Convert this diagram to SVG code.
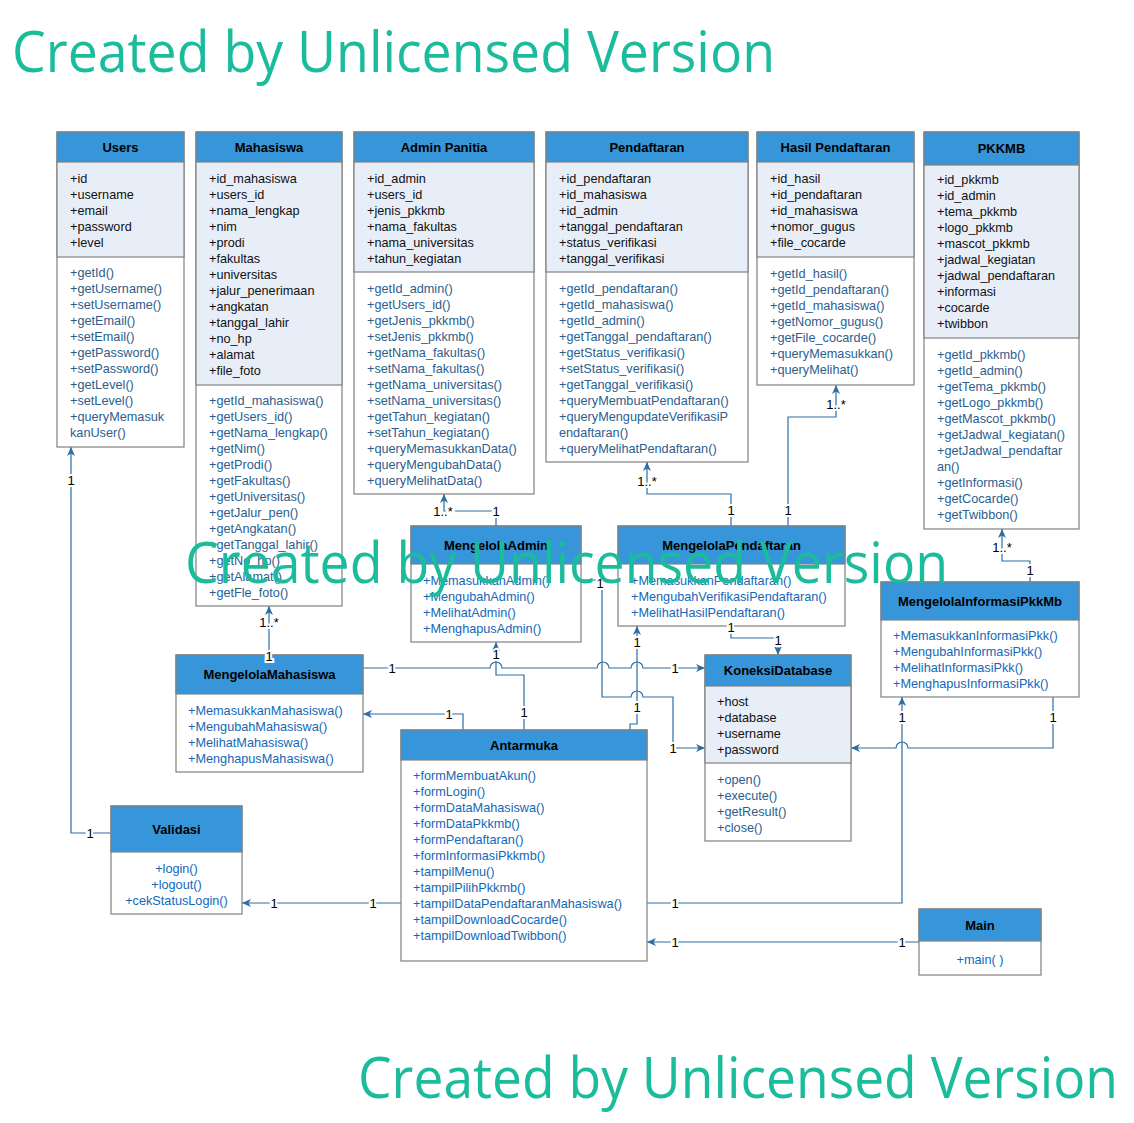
<svg xmlns="http://www.w3.org/2000/svg" width="1134" height="1123" viewBox="0 0 1134 1123">
<style>
.bx{fill:#fff;stroke:#808080;stroke-width:1.2}
.hd{fill:#3796d9;stroke:#808080;stroke-width:1.2}
.at{fill:#e8eef8;stroke:#808080;stroke-width:1.2}
text{font-family:"Liberation Sans",Arial,sans-serif;font-size:12.7px}
.ti{font-weight:bold;font-size:13px;text-anchor:middle;fill:#000}
.a{fill:#111}
.m{fill:#2b5e8e}
.c{fill:#1268b8}
.ctr{text-anchor:middle}
.ln{fill:none;stroke:#2e6da4;stroke-width:1.2}
.lb{font-size:13px;fill:#000;stroke:#fff;stroke-width:4;paint-order:stroke;text-anchor:middle}
.wm{font-family:"Open Sans","Noto Sans",sans-serif;font-size:56px;fill:#1bbc9b}
</style>
<defs>
<marker id="arr" markerUnits="userSpaceOnUse" markerWidth="10" markerHeight="9" refX="9" refY="4" orient="auto">
<path d="M0,0 L9,4 L0,8 L2.5,4 z" fill="#2e6da4"/>
</marker>
</defs>
<rect width="1134" height="1123" fill="#fff"/>

<g id="connectors">
<path class="ln" d="M111,833 H71 V447" marker-end="url(#arr)"/>
<path class="ln" d="M269,655 V606" marker-end="url(#arr)"/>
<path class="ln" d="M496,526 V511 H444 V494" marker-end="url(#arr)"/>
<path class="ln" d="M731,526 V494 H647 V462" marker-end="url(#arr)"/>
<path class="ln" d="M788,526 V417 H836 V385" marker-end="url(#arr)"/>
<path class="ln" d="M1030,582 V561 H1002 V529" marker-end="url(#arr)"/>
<path class="ln" d="M731,626 V638 H778 V655" marker-end="url(#arr)"/>
<path class="ln" d="M363,668 H490 a6,6 0 0 1 12,0 H597 a6,6 0 0 1 12,0 H631 a6,6 0 0 1 12,0 H705" marker-end="url(#arr)"/>
<path class="ln" d="M524,730 V675 H496 V642" marker-end="url(#arr)"/>
<path class="ln" d="M463,730 V714 H363" marker-end="url(#arr)"/>
<path class="ln" d="M630,730 V724 H637 V626" marker-end="url(#arr)"/>
<path class="ln" d="M581,580 H602 V697 H631 a6,6 0 0 1 12,0 H673 V748 H705" marker-end="url(#arr)"/>
<path class="ln" d="M647,903 H902 V697" marker-end="url(#arr)"/>
<path class="ln" d="M1053,697 V748 H908 a6,6 0 0 0 -12,0 H851" marker-end="url(#arr)"/>
<path class="ln" d="M919,942 H647" marker-end="url(#arr)"/>
<path class="ln" d="M401,903 H242" marker-end="url(#arr)"/>
</g>

<g id="users">
<rect class="bx" x="57" y="132" width="127" height="315"/>
<rect class="hd" x="57" y="132" width="127" height="30"/>
<rect class="at" x="57" y="162" width="127" height="95"/>
<text class="ti" x="120.5" y="151.5">Users</text>
<text class="a"><tspan x="70" y="182.5">+id</tspan><tspan x="70" dy="16">+username</tspan><tspan x="70" dy="16">+email</tspan><tspan x="70" dy="16">+password</tspan><tspan x="70" dy="16">+level</tspan></text>
<text class="m"><tspan x="70" y="276.5">+getId()</tspan><tspan x="70" dy="16">+getUsername()</tspan><tspan x="70" dy="16">+setUsername()</tspan><tspan x="70" dy="16">+getEmail()</tspan><tspan x="70" dy="16">+setEmail()</tspan><tspan x="70" dy="16">+getPassword()</tspan><tspan x="70" dy="16">+setPassword()</tspan><tspan x="70" dy="16">+getLevel()</tspan><tspan x="70" dy="16">+setLevel()</tspan><tspan x="70" dy="16">+queryMemasuk</tspan><tspan x="70" dy="16">kanUser()</tspan></text>
</g>

<g id="mahasiswa">
<rect class="bx" x="196" y="132" width="146" height="474"/>
<rect class="hd" x="196" y="132" width="146" height="30"/>
<rect class="at" x="196" y="162" width="146" height="223"/>
<text class="ti" x="269" y="151.5">Mahasiswa</text>
<text class="a"><tspan x="209" y="182.5">+id_mahasiswa</tspan><tspan x="209" dy="16">+users_id</tspan><tspan x="209" dy="16">+nama_lengkap</tspan><tspan x="209" dy="16">+nim</tspan><tspan x="209" dy="16">+prodi</tspan><tspan x="209" dy="16">+fakultas</tspan><tspan x="209" dy="16">+universitas</tspan><tspan x="209" dy="16">+jalur_penerimaan</tspan><tspan x="209" dy="16">+angkatan</tspan><tspan x="209" dy="16">+tanggal_lahir</tspan><tspan x="209" dy="16">+no_hp</tspan><tspan x="209" dy="16">+alamat</tspan><tspan x="209" dy="16">+file_foto</tspan></text>
<text class="m"><tspan x="209" y="404.5">+getId_mahasiswa()</tspan><tspan x="209" dy="16">+getUsers_id()</tspan><tspan x="209" dy="16">+getNama_lengkap()</tspan><tspan x="209" dy="16">+getNim()</tspan><tspan x="209" dy="16">+getProdi()</tspan><tspan x="209" dy="16">+getFakultas()</tspan><tspan x="209" dy="16">+getUniversitas()</tspan><tspan x="209" dy="16">+getJalur_pen()</tspan><tspan x="209" dy="16">+getAngkatan()</tspan><tspan x="209" dy="16">+getTanggal_lahir()</tspan><tspan x="209" dy="16">+getNo_hp()</tspan><tspan x="209" dy="16">+getAlamat()</tspan><tspan x="209" dy="16">+getFle_foto()</tspan></text>
</g>

<g id="admin-panitia">
<rect class="bx" x="354" y="132" width="180" height="362"/>
<rect class="hd" x="354" y="132" width="180" height="30"/>
<rect class="at" x="354" y="162" width="180" height="110"/>
<text class="ti" x="444" y="151.5">Admin Panitia</text>
<text class="a"><tspan x="367" y="182.5">+id_admin</tspan><tspan x="367" dy="16">+users_id</tspan><tspan x="367" dy="16">+jenis_pkkmb</tspan><tspan x="367" dy="16">+nama_fakultas</tspan><tspan x="367" dy="16">+nama_universitas</tspan><tspan x="367" dy="16">+tahun_kegiatan</tspan></text>
<text class="m"><tspan x="367" y="292.5">+getId_admin()</tspan><tspan x="367" dy="16">+getUsers_id()</tspan><tspan x="367" dy="16">+getJenis_pkkmb()</tspan><tspan x="367" dy="16">+setJenis_pkkmb()</tspan><tspan x="367" dy="16">+getNama_fakultas()</tspan><tspan x="367" dy="16">+setNama_fakultas()</tspan><tspan x="367" dy="16">+getNama_universitas()</tspan><tspan x="367" dy="16">+setNama_universitas()</tspan><tspan x="367" dy="16">+getTahun_kegiatan()</tspan><tspan x="367" dy="16">+setTahun_kegiatan()</tspan><tspan x="367" dy="16">+queryMemasukkanData()</tspan><tspan x="367" dy="16">+queryMengubahData()</tspan><tspan x="367" dy="16">+queryMelihatData()</tspan></text>
</g>

<g id="pendaftaran">
<rect class="bx" x="546" y="132" width="202" height="330"/>
<rect class="hd" x="546" y="132" width="202" height="30"/>
<rect class="at" x="546" y="162" width="202" height="110"/>
<text class="ti" x="647" y="151.5">Pendaftaran</text>
<text class="a"><tspan x="559" y="182.5">+id_pendaftaran</tspan><tspan x="559" dy="16">+id_mahasiswa</tspan><tspan x="559" dy="16">+id_admin</tspan><tspan x="559" dy="16">+tanggal_pendaftaran</tspan><tspan x="559" dy="16">+status_verifikasi</tspan><tspan x="559" dy="16">+tanggal_verifikasi</tspan></text>
<text class="m"><tspan x="559" y="292.5">+getId_pendaftaran()</tspan><tspan x="559" dy="16">+getId_mahasiswa()</tspan><tspan x="559" dy="16">+getId_admin()</tspan><tspan x="559" dy="16">+getTanggal_pendaftaran()</tspan><tspan x="559" dy="16">+getStatus_verifikasi()</tspan><tspan x="559" dy="16">+setStatus_verifikasi()</tspan><tspan x="559" dy="16">+getTanggal_verifikasi()</tspan><tspan x="559" dy="16">+queryMembuatPendaftaran()</tspan><tspan x="559" dy="16">+queryMengupdateVerifikasiP</tspan><tspan x="559" dy="16">endaftaran()</tspan><tspan x="559" dy="16">+queryMelihatPendaftaran()</tspan></text>
</g>

<g id="hasil-pendaftaran">
<rect class="bx" x="757" y="132" width="157" height="253"/>
<rect class="hd" x="757" y="132" width="157" height="30"/>
<rect class="at" x="757" y="162" width="157" height="95"/>
<text class="ti" x="835.5" y="151.5">Hasil Pendaftaran</text>
<text class="a"><tspan x="770" y="182.5">+id_hasil</tspan><tspan x="770" dy="16">+id_pendaftaran</tspan><tspan x="770" dy="16">+id_mahasiswa</tspan><tspan x="770" dy="16">+nomor_gugus</tspan><tspan x="770" dy="16">+file_cocarde</tspan></text>
<text class="m"><tspan x="770" y="277.5">+getId_hasil()</tspan><tspan x="770" dy="16">+getId_pendaftaran()</tspan><tspan x="770" dy="16">+getId_mahasiswa()</tspan><tspan x="770" dy="16">+getNomor_gugus()</tspan><tspan x="770" dy="16">+getFile_cocarde()</tspan><tspan x="770" dy="16">+queryMemasukkan()</tspan><tspan x="770" dy="16">+queryMelihat()</tspan></text>
</g>

<g id="pkkmb">
<rect class="bx" x="924" y="132" width="155" height="397"/>
<rect class="hd" x="924" y="132" width="155" height="33"/>
<rect class="at" x="924" y="165" width="155" height="173"/>
<text class="ti" x="1001.5" y="153">PKKMB</text>
<text class="a"><tspan x="937" y="183.5">+id_pkkmb</tspan><tspan x="937" dy="16">+id_admin</tspan><tspan x="937" dy="16">+tema_pkkmb</tspan><tspan x="937" dy="16">+logo_pkkmb</tspan><tspan x="937" dy="16">+mascot_pkkmb</tspan><tspan x="937" dy="16">+jadwal_kegiatan</tspan><tspan x="937" dy="16">+jadwal_pendaftaran</tspan><tspan x="937" dy="16">+informasi</tspan><tspan x="937" dy="16">+cocarde</tspan><tspan x="937" dy="16">+twibbon</tspan></text>
<text class="m"><tspan x="937" y="358.5">+getId_pkkmb()</tspan><tspan x="937" dy="16">+getId_admin()</tspan><tspan x="937" dy="16">+getTema_pkkmb()</tspan><tspan x="937" dy="16">+getLogo_pkkmb()</tspan><tspan x="937" dy="16">+getMascot_pkkmb()</tspan><tspan x="937" dy="16">+getJadwal_kegiatan()</tspan><tspan x="937" dy="16">+getJadwal_pendaftar</tspan><tspan x="937" dy="16">an()</tspan><tspan x="937" dy="16">+getInformasi()</tspan><tspan x="937" dy="16">+getCocarde()</tspan><tspan x="937" dy="16">+getTwibbon()</tspan></text>
</g>

<g id="mengelola-admin">
<rect class="bx" x="411" y="526" width="170" height="116"/>
<rect class="hd" x="411" y="526" width="170" height="38"/>
<text class="ti" x="496" y="549.5">MengelolaAdmin</text>
<text class="c"><tspan x="423" y="584.5">+MemasukkanAdmin()</tspan><tspan x="423" dy="16">+MengubahAdmin()</tspan><tspan x="423" dy="16">+MelihatAdmin()</tspan><tspan x="423" dy="16">+MenghapusAdmin()</tspan></text>
</g>

<g id="mengelola-pendaftaran">
<rect class="bx" x="618" y="526" width="227" height="100"/>
<rect class="hd" x="618" y="526" width="227" height="38"/>
<text class="ti" x="731.5" y="549.5">MengelolaPendaftaran</text>
<text class="c"><tspan x="631" y="584.5">+MemasukkanPendaftaran()</tspan><tspan x="631" dy="16">+MengubahVerifikasiPendaftaran()</tspan><tspan x="631" dy="16">+MelihatHasilPendaftaran()</tspan></text>
</g>

<g id="mengelola-informasi-pkkmb">
<rect class="bx" x="881" y="582" width="198" height="115"/>
<rect class="hd" x="881" y="582" width="198" height="38"/>
<text class="ti" x="980" y="605.5">MengelolaInformasiPkkMb</text>
<text class="c"><tspan x="893" y="639.5">+MemasukkanInformasiPkk()</tspan><tspan x="893" dy="16">+MengubahInformasiPkk()</tspan><tspan x="893" dy="16">+MelihatInformasiPkk()</tspan><tspan x="893" dy="16">+MenghapusInformasiPkk()</tspan></text>
</g>

<g id="mengelola-mahasiswa">
<rect class="bx" x="176" y="655" width="187" height="117"/>
<rect class="hd" x="176" y="655" width="187" height="39"/>
<text class="ti" x="269.5" y="679">MengelolaMahasiswa</text>
<text class="c"><tspan x="188" y="714.5">+MemasukkanMahasiswa()</tspan><tspan x="188" dy="16">+MengubahMahasiswa()</tspan><tspan x="188" dy="16">+MelihatMahasiswa()</tspan><tspan x="188" dy="16">+MenghapusMahasiswa()</tspan></text>
</g>

<g id="koneksi-database">
<rect class="bx" x="705" y="655" width="146" height="186"/>
<rect class="hd" x="705" y="655" width="146" height="31"/>
<rect class="at" x="705" y="686" width="146" height="77"/>
<text class="ti" x="778" y="675">KoneksiDatabase</text>
<text class="a"><tspan x="717" y="705.5">+host</tspan><tspan x="717" dy="16">+database</tspan><tspan x="717" dy="16">+username</tspan><tspan x="717" dy="16">+password</tspan></text>
<text class="m"><tspan x="717" y="783.5">+open()</tspan><tspan x="717" dy="16">+execute()</tspan><tspan x="717" dy="16">+getResult()</tspan><tspan x="717" dy="16">+close()</tspan></text>
</g>

<g id="antarmuka">
<rect class="bx" x="401" y="730" width="246" height="231"/>
<rect class="hd" x="401" y="730" width="246" height="30"/>
<text class="ti" x="524" y="749.5">Antarmuka</text>
<text class="c"><tspan x="413" y="779.5">+formMembuatAkun()</tspan><tspan x="413" dy="16">+formLogin()</tspan><tspan x="413" dy="16">+formDataMahasiswa()</tspan><tspan x="413" dy="16">+formDataPkkmb()</tspan><tspan x="413" dy="16">+formPendaftaran()</tspan><tspan x="413" dy="16">+formInformasiPkkmb()</tspan><tspan x="413" dy="16">+tampilMenu()</tspan><tspan x="413" dy="16">+tampilPilihPkkmb()</tspan><tspan x="413" dy="16">+tampilDataPendaftaranMahasiswa()</tspan><tspan x="413" dy="16">+tampilDownloadCocarde()</tspan><tspan x="413" dy="16">+tampilDownloadTwibbon()</tspan></text>
</g>

<g id="validasi">
<rect class="bx" x="111" y="806" width="131" height="108"/>
<rect class="hd" x="111" y="806" width="131" height="46"/>
<text class="ti" x="176.5" y="833.5">Validasi</text>
<text class="c ctr"><tspan x="176.5" y="872.5">+login()</tspan><tspan x="176.5" dy="16">+logout()</tspan><tspan x="176.5" dy="16">+cekStatusLogin()</tspan></text>
</g>

<g id="main">
<rect class="bx" x="919" y="909" width="122" height="66"/>
<rect class="hd" x="919" y="909" width="122" height="32"/>
<text class="ti" x="980" y="929.5">Main</text>
<text class="c ctr" x="980" y="963.5">+main( )</text>
</g>

<g id="connector-labels">
<text class="lb" x="90" y="837.5">1</text>
<text class="lb" x="71" y="484.5">1</text>
<text class="lb" x="269" y="626.5">1..*</text>
<text class="lb" x="269" y="660.5">1</text>
<text class="lb" x="443" y="515.5">1..*</text>
<text class="lb" x="496" y="515.5">1</text>
<text class="lb" x="647" y="485.5">1..*</text>
<text class="lb" x="731" y="514.5">1</text>
<text class="lb" x="836" y="408.5">1..*</text>
<text class="lb" x="788" y="514.5">1</text>
<text class="lb" x="1002" y="551.5">1..*</text>
<text class="lb" x="1030" y="574.5">1</text>
<text class="lb" x="731" y="631.5">1</text>
<text class="lb" x="778" y="644.5">1</text>
<text class="lb" x="392" y="672.5">1</text>
<text class="lb" x="675" y="672.5">1</text>
<text class="lb" x="496" y="658.5">1</text>
<text class="lb" x="524" y="716.5">1</text>
<text class="lb" x="449" y="718.5">1</text>
<text class="lb" x="637" y="646.5">1</text>
<text class="lb" x="637" y="711.5">1</text>
<text class="lb" x="600" y="587.5">1</text>
<text class="lb" x="673" y="752.5">1</text>
<text class="lb" x="675" y="907.5">1</text>
<text class="lb" x="902" y="721.5">1</text>
<text class="lb" x="1053" y="721.5">1</text>
<text class="lb" x="675" y="946.5">1</text>
<text class="lb" x="902" y="946.5">1</text>
<text class="lb" x="274" y="907.5">1</text>
<text class="lb" x="373" y="907.5">1</text>
</g>

<g id="watermarks">
<text class="wm" x="12" y="72" textLength="763" lengthAdjust="spacingAndGlyphs">Created by Unlicensed Version</text>
<text class="wm" x="185" y="583" textLength="763" lengthAdjust="spacingAndGlyphs">Created by Unlicensed Version</text>
<text class="wm" x="358" y="1098" textLength="760" lengthAdjust="spacingAndGlyphs">Created by Unlicensed Version</text>
</g>
</svg>
